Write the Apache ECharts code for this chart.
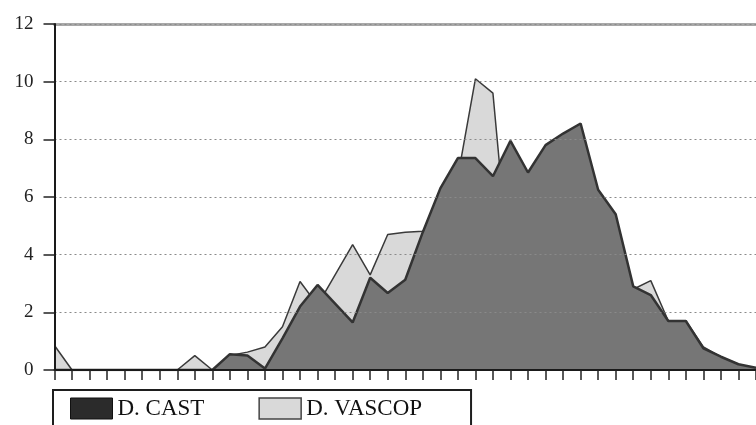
<!DOCTYPE html>
<html>
<head>
<meta charset="utf-8">
<script src="https://cdn.jsdelivr.net/npm/echarts@6/dist/echarts.min.js"></script>
<style>
  html, body { margin: 0; padding: 0; background: #ffffff; }
  #chart { width: 756px; height: 425px; }
</style>
</head>
<body>
<div id="chart"></div>
<script>
// Category slots along the horizontal axis (unlabelled)
const categories = ['1','2','3','4','5','6','7','8','9','10','11','12','13','14','15','16','17','18','19','20',
  '21','22','23','24','25','26','27','28','29','30','31','32','33','34','35','36','37','38','39','40','41'];

// D. CAST values (dark area, drawn in front)
const castValues = [0, 0, 0, 0, 0, 0, 0, 0, 0, 0,
  0.55, 0.5, 0.05, 1.1, 2.2, 2.95, 2.3, 1.65, 3.2, 2.67,
  3.13, 4.78, 6.3, 7.35, 7.35, 6.72, 7.95, 6.85, 7.8, 8.2,
  8.55, 6.25, 5.4, 2.9, 2.6, 1.7, 1.7, 0.75, 0.46, 0.2, 0.08];

// D. VASCOP values (light area, drawn behind)
const vascopValues = [0.85, 0, 0, 0, 0, 0, 0, 0, 0.5, 0,
  0.5, 0.62, 0.8, 1.5, 3.07, 2.25, 3.3, 4.35, 3.3, 4.7,
  4.78, 4.81, 5.5, 6.7, 10.1, 9.6, 3.0, 4.0, 4.5, 5.0,
  5.0, 4.5, 4.0, 2.8, 3.1, 1.7, 1.7, 0.8, 0.45, 0.2, 0.05];

// Value axis ticks
const yMin = 0, yMax = 12, yStep = 2;

const serif = "'Liberation Serif', 'DejaVu Serif', serif";

const chart = echarts.init(document.getElementById('chart'), null, { renderer: 'canvas' });

chart.setOption({
  animation: false,
  backgroundColor: '#ffffff',
  grid: { left: 54.5, top: 24, width: 710, height: 346, containLabel: false },
  legend: {
    left: 53,
    top: 390,
    orient: 'horizontal',
    padding: [7, 49, 20, 17],
    itemGap: 54,
    itemWidth: 42,
    itemHeight: 21,
    borderColor: '#1e1e1e',
    borderWidth: 2,
    backgroundColor: '#ffffff',
    selectedMode: false,
    textStyle: { fontFamily: serif, fontSize: 23, color: '#111111' },
    data: [
      { name: 'D. CAST', icon: 'rect', itemStyle: { color: '#2b2b2b', borderColor: '#111111', borderWidth: 1 } },
      { name: 'D. VASCOP', icon: 'rect', itemStyle: { color: '#d9d9d9', borderColor: '#444444', borderWidth: 1.5 } }
    ]
  },
  xAxis: [
    {
      type: 'category',
      data: categories,
      boundaryGap: false,
      position: 'bottom',
      axisLine: { show: true, onZero: false, lineStyle: { color: '#1a1a1a', width: 2 } },
      axisTick: { show: true, interval: 0, length: 10, lineStyle: { color: '#222222', width: 1.5 } },
      axisLabel: { show: false },
      splitLine: { show: false },
      z: 5
    },
    {
      // top border of the plot area
      type: 'category',
      data: categories,
      boundaryGap: false,
      position: 'top',
      axisLine: { show: true, onZero: false, lineStyle: { color: '#a8a8a8', width: 3 } },
      axisTick: { show: false },
      axisLabel: { show: false },
      splitLine: { show: false }
    }
  ],
  yAxis: {
    type: 'value',
    min: yMin,
    max: yMax,
    interval: yStep,
    axisLine: { show: true, lineStyle: { color: '#1a1a1a', width: 2 } },
    axisTick: { show: true, length: 11, lineStyle: { color: '#222222', width: 1.5 } },
    axisLabel: { margin: 21, fontFamily: serif, fontSize: 19, color: '#222222' },
    splitLine: { show: true, lineStyle: { color: '#8a8a8a', width: 1, type: [2, 3] } },
    z: 5
  },
  series: [
    {
      name: 'D. VASCOP',
      type: 'line',
      data: vascopValues,
      symbol: 'none',
      smooth: false,
      z: 2,
      lineStyle: { color: '#3a3a3a', width: 1.5 },
      areaStyle: { color: '#d9d9d9', opacity: 1 },
      itemStyle: { color: '#d9d9d9' }
    },
    {
      name: 'D. CAST',
      type: 'line',
      data: castValues,
      symbol: 'none',
      smooth: false,
      z: 3,
      lineStyle: { color: '#333333', width: 2.5 },
      areaStyle: { color: '#767676', opacity: 1 },
      itemStyle: { color: '#2b2b2b' }
    }
  ]
});
</script>
</body>
</html>
